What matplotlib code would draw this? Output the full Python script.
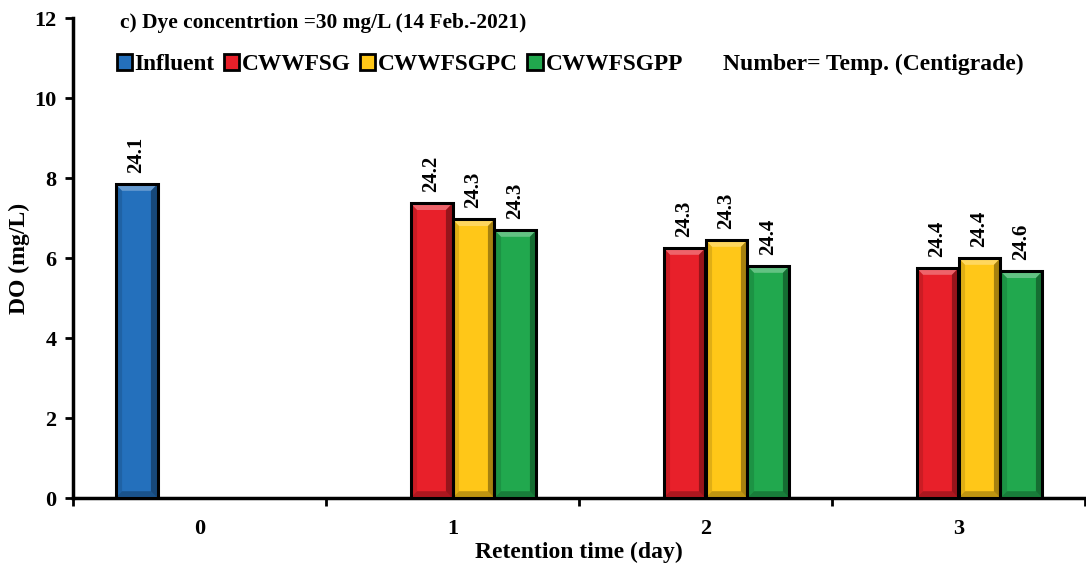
import numpy as np
import matplotlib.pyplot as plt
from matplotlib.patches import Patch, Polygon

plt.rcParams['font.family'] = ['Liberation Serif', 'DejaVu Serif']
plt.rcParams['font.weight'] = 'bold'

days = ['0', '1', '2', '3']
series = ['Influent', 'CWWFSG', 'CWWFSGPC', 'CWWFSGPP']
colors = ['#2470BC', '#E8202A', '#FFC718', '#21A84E']

# DO (mg/L) per day; influent is only sampled on day 0
do_influent = [7.85, np.nan, np.nan, np.nan]
do_cwwfsg = [np.nan, 7.37, 6.25, 5.75]
do_cwwfsgpc = [np.nan, 6.97, 6.45, 6.0]
do_cwwfsgpp = [np.nan, 6.7, 5.8, 5.67]

# water temperature (C) written above each bar
temp_influent = [24.1, None, None, None]
temp_cwwfsg = [None, 24.2, 24.3, 24.4]
temp_cwwfsgpc = [None, 24.3, 24.3, 24.4]
temp_cwwfsgpp = [None, 24.3, 24.4, 24.6]

values = [do_influent, do_cwwfsg, do_cwwfsgpc, do_cwwfsgpp]
temps = [temp_influent, temp_cwwfsg, temp_cwwfsgpc, temp_cwwfsgpp]

fig = plt.figure(figsize=(10.86, 5.68), dpi=100)
ax = fig.add_axes([73 / 1086, 1 - 498 / 568, 1012 / 1086, 480 / 568])
ax.set_xlim(-0.5, 3.5)
ax.set_ylim(0, 12)


def bevel(ax, bar, dx=0.026, dy=0.17):
    # light top edge, darker sides and bottom, like an embossed block
    x0, y0 = bar.get_x(), bar.get_y()
    x1, y1 = x0 + bar.get_width(), y0 + bar.get_height()
    faces = [
        ([(x0, y1), (x1, y1), (x1 - dx, y1 - dy), (x0 + dx, y1 - dy)], 'white', 0.3),
        ([(x1, y1), (x1, y0), (x1 - dx, y0 + dy), (x1 - dx, y1 - dy)], 'black', 0.35),
        ([(x0, y1), (x0, y0), (x0 + dx, y0 + dy), (x0 + dx, y1 - dy)], 'black', 0.12),
        ([(x0, y0), (x1, y0), (x1 - dx, y0 + dy), (x0 + dx, y0 + dy)], 'black', 0.25),
    ]
    for pts, c, a in faces:
        ax.add_patch(Polygon(pts, closed=True, facecolor=c, alpha=a,
                             edgecolor='none', zorder=4))


x = np.arange(len(days))
w = 0.166
for i, (vals, tmp) in enumerate(zip(values, temps)):
    pos = x + (i - 1.5) * w
    bars = ax.bar(pos, vals, w, color=colors[i], edgecolor='none', zorder=3)
    for b, v in zip(bars, vals):
        if not np.isnan(v):
            bevel(ax, b)
    ax.bar(pos, vals, w, fill=False, edgecolor='black', linewidth=2.2, zorder=5)
    for p, v, t in zip(pos, vals, tmp):
        if t is None:
            continue
        ax.text(p, v + 0.28, f'{t:.1f}', rotation=90, ha='center', va='bottom',
                fontsize=15, fontweight='bold')

ax.set_yticks(range(0, 13, 2))
ax.set_xticks(x)
ax.set_xticklabels(days)
ax.set_xticks(np.arange(-0.5, 4.0, 1.0), minor=True)
ax.tick_params(axis='x', which='major', length=0, pad=15, labelsize=16)
ax.tick_params(axis='x', which='minor', length=6, width=2, direction='out')
ax.tick_params(axis='y', length=6, width=2, direction='out', labelsize=16, pad=6)
for s in ['top', 'right']:
    ax.spines[s].set_visible(False)
for s in ['left', 'bottom']:
    ax.spines[s].set_linewidth(2.5)

ax.set_ylabel('DO (mg/L)', fontsize=17, fontweight='bold')
ax.yaxis.set_label_coords(-0.042, 0.5)
ax.set_xlabel('Retention time (day)', fontsize=17, fontweight='bold', labelpad=2)

ax.text(0.046, 0.99, 'c) Dye concentrtion =30 mg/L (14 Feb.-2021)', transform=ax.transAxes,
        fontsize=15.4, fontweight='bold', ha='left', va='center')

handles = [Patch(facecolor=c, edgecolor='black', linewidth=2) for c in colors]
leg = ax.legend(handles, series, ncol=4, loc='center left', bbox_to_anchor=(0.043, 0.903),
                frameon=False, fontsize=16.8, handlelength=0.65, handleheight=0.65,
                handletextpad=0.12, columnspacing=0.4, borderpad=0, borderaxespad=0)
ax.text(0.642, 0.903, 'Number= Temp. (Centigrade)', transform=ax.transAxes,
        fontsize=17, fontweight='bold', ha='left', va='center')

fig.savefig('out.png', dpi=100)
